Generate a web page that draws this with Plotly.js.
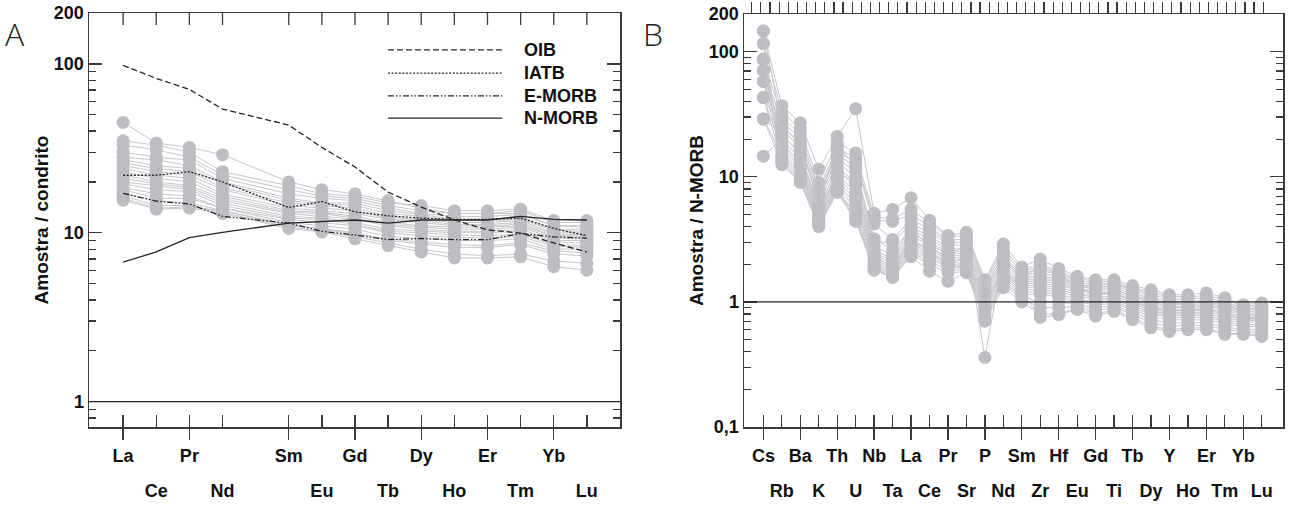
<!DOCTYPE html>
<html><head><meta charset="utf-8">
<script src="https://cdn.plot.ly/plotly-3.0.1.min.js"></script>
<style>html,body{margin:0;padding:0;background:#fff}#chart{width:1293px;height:505px}</style>
</head><body><div id="chart"></div>
<script>
// ---------- Panel A: chondrite-normalised REE ----------
const reeElements = ['La','Ce','Pr','Nd','Pm','Sm','Eu','Gd','Tb','Dy','Ho','Er','Tm','Yb','Lu'];
const reeRow1 = ['La','Pr','Sm','Gd','Dy','Er','Yb'];
const reeRow2 = ['Ce','Nd','Eu','Tb','Ho','Tm','Lu'];
const reeTicked = ['La','Ce','Pr','Nd','Sm','Eu','Gd','Tb','Dy','Ho','Er','Tm','Yb','Lu'];

// reference patterns (Pm = null)
const OIB_A   = [98, 82, 70.6, 54, null, 43.4, 32, 24.5, 17.4, 14.2, 11.9, 10.4, 9.96, 8.7, 7.7];
const IATB_A  = [21.9, 21.9, 23, 20, null, 14.1, 15.3, 13.3, 12.6, 12.2, 12, 12, 12.2, 10.6, 9.6];
const EMORB_A = [17.1, 15.4, 14.8, 12.5, null, 11.4, 10.2, 9.7, 9.1, 9.25, 9.1, 9.1, 9.9, 9.45, 9.3];
const NMORB_A = [6.7, 7.7, 9.35, 10.05, null, 11.4, 11.6, 11.9, 11.4, 11.9, 11.9, 11.9, 12.5, 12.0, 11.9];

// samples (La..Lu, Pm = null)
const samplesA = [
 [45, 34, 32, 29, null, 20, 18, 17, 15.5, 14, 13, 13, 13.5, 11.5, 11.5],
 [35, 33, 30, 23, null, 19, 17, 16.5, 15, 14.5, 13.5, 13.5, 13.8, 11.8, 11.8],
 [33, 31, 28, 22, null, 18, 16.5, 16, 14.5, 13.5, 13, 13, 13, 11, 11],
 [30, 28, 27, 21, null, 17, 16, 15.5, 14, 13, 12.5, 12.5, 12.8, 11, 10.8],
 [28, 27, 25, 20, null, 16, 15, 15, 13.5, 12.8, 12, 12, 12.5, 10.5, 10.5],
 [27, 25, 24, 19.5, null, 15.5, 14.8, 14.5, 13, 12.5, 11.8, 11.8, 12, 10.3, 10.2],
 [26, 24, 23, 18.5, null, 15, 14.5, 14, 12.5, 12, 11.5, 11.5, 11.8, 10, 10],
 [25, 23, 22, 18, null, 14.5, 14, 13.5, 12.2, 11.8, 11.2, 11.2, 11.5, 9.8, 9.8],
 [24, 22, 21, 17, null, 14, 13.5, 13, 12, 11.5, 11, 11, 11.2, 9.6, 9.6],
 [23, 21, 20, 16.5, null, 13.5, 13.2, 12.5, 11.5, 11, 10.8, 10.8, 11, 9.5, 9.4],
 [22, 20, 19, 16, null, 13.2, 13, 12.2, 11.2, 10.8, 10.5, 10.5, 10.8, 9.3, 9.2],
 [21, 19.5, 18.5, 15.5, null, 13, 12.5, 12, 11, 10.5, 10.2, 10.2, 10.5, 9, 9],
 [20, 19, 18, 15, null, 12.5, 12.2, 11.5, 10.5, 10.2, 10, 10, 10.2, 8.8, 8.7],
 [19.5, 18, 17.5, 14.5, null, 12.2, 12, 11.2, 10.2, 10, 9.7, 9.6, 9.8, 8.5, 8.4],
 [18.5, 17, 16.5, 14, null, 12, 11.5, 11, 10, 9.6, 9.4, 9.3, 9.5, 8.3, 8.2],
 [18, 16, 16, 14, null, 11.5, 11, 10.5, 9.5, 9.2, 9, 9, 9.2, 8, 8],
 [17, 15.5, 15, 13.5, null, 11, 10.6, 10, 9, 8.6, 8.2, 8.2, 8.5, 7.5, 7.3],
 [16.5, 14.5, 14.5, 13.2, null, 10.8, 10.2, 9.5, 8.7, 8.0, 7.5, 7.3, 7.5, 6.8, 6.6],
 [15.6, 13.8, 14, 13, null, 10.6, 10.1, 9.2, 8.4, 7.7, 7.1, 7.1, 7.2, 6.3, 6.0],
 [16, 14, 14.2, 13.5, null, 11.2, 10.5, 9.8, 9.2, 8.8, 8.5, 8.4, 8.7, 7.8, 7.6]
];

// ---------- Panel B: N-MORB-normalised multi-element ----------
const spiderElements = ['Cs','Rb','Ba','K','Th','U','Nb','Ta','La','Ce','Pr','Sr','P','Nd','Sm','Zr','Hf','Eu','Gd','Ti','Tb','Dy','Y','Ho','Er','Tm','Yb','Lu'];
const spiderRow1 = ['Cs','Ba','Th','Nb','La','Pr','P','Sm','Hf','Gd','Tb','Y','Er','Yb'];
const spiderRow2 = ['Rb','K','U','Ta','Ce','Sr','Nd','Zr','Eu','Ti','Dy','Ho','Tm','Lu'];

const samplesB = [
 [146, 37, 27, 11.5, 21, 35, 5.1, 5.5, 6.8, 4.5, 3.4, 3.6, 1.5, 2.9, 1.9, 2.2, 1.85, 1.6, 1.5, 1.5, 1.35, 1.25, 1.14, 1.14, 1.18, 1.08, 0.95, 0.98],
 [116, 33, 24, 9, 19, 15.5, 4.8, 4.6, 5.5, 4.3, 3.3, 3.4, 1.45, 2.7, 1.8, 2.0, 1.75, 1.55, 1.45, 1.45, 1.3, 1.2, 1.1, 1.1, 1.12, 1.05, 0.92, 0.95],
 [87, 30, 22, 8, 17, 14, 4.5, 4.4, 5.0, 4.0, 3.1, 3.2, 1.4, 2.5, 1.75, 1.9, 1.7, 1.5, 1.4, 1.4, 1.28, 1.15, 1.05, 1.05, 1.08, 1.0, 0.9, 0.92],
 [71, 28, 20, 7.5, 16, 13, 4.2, 3.15, 4.6, 3.8, 3.0, 3.0, 1.35, 2.3, 1.7, 1.8, 1.65, 1.45, 1.35, 1.38, 1.25, 1.1, 1.0, 1.0, 1.03, 0.97, 0.87, 0.9],
 [58, 26, 18, 7, 15, 12, 3.0, 3.0, 4.2, 3.6, 2.9, 2.8, 1.3, 2.2, 1.65, 1.7, 1.6, 1.4, 1.3, 1.35, 1.2, 1.05, 0.97, 0.97, 1.0, 0.94, 0.85, 0.88],
 [43, 24, 17, 6.5, 14, 11, 2.8, 2.35, 3.9, 3.4, 2.7, 2.6, 1.25, 2.1, 1.6, 1.6, 1.55, 1.38, 1.28, 1.3, 1.15, 1.02, 0.95, 0.95, 0.97, 0.92, 0.83, 0.85],
 [29, 22, 15, 6, 13, 10, 2.6, 2.2, 3.7, 3.2, 2.6, 2.5, 1.2, 2.0, 1.55, 1.55, 1.5, 1.35, 1.25, 1.25, 1.12, 1.0, 0.92, 0.92, 0.94, 0.9, 0.8, 0.83],
 [14.6, 20, 14, 5.5, 12, 9, 2.5, 2.1, 3.5, 3.0, 2.5, 2.4, 1.15, 1.9, 1.5, 1.5, 1.45, 1.3, 1.2, 1.2, 1.1, 0.97, 0.9, 0.9, 0.92, 0.87, 0.78, 0.8],
 [58, 19, 13, 5.3, 11, 8.5, 2.4, 2.0, 3.3, 2.9, 2.4, 2.3, 1.1, 1.8, 1.45, 1.45, 1.4, 1.27, 1.18, 1.17, 1.05, 0.93, 0.87, 0.87, 0.88, 0.83, 0.76, 0.78],
 [87, 18, 12.5, 5, 10.5, 7.5, 2.3, 1.9, 3.1, 2.7, 2.3, 2.2, 1.05, 1.75, 1.4, 1.4, 1.35, 1.25, 1.15, 1.15, 1.03, 0.9, 0.85, 0.85, 0.86, 0.8, 0.74, 0.76],
 [43, 17, 12, 4.8, 10, 7, 2.2, 1.85, 3.0, 2.6, 2.2, 2.1, 1.0, 1.7, 1.35, 1.35, 1.3, 1.2, 1.1, 1.1, 1.0, 0.88, 0.82, 0.82, 0.83, 0.78, 0.72, 0.74],
 [71, 16, 11.5, 4.6, 9.5, 6.5, 2.1, 1.8, 2.9, 2.5, 2.1, 2.0, 0.95, 1.65, 1.3, 1.3, 1.25, 1.15, 1.08, 1.05, 0.97, 0.85, 0.8, 0.8, 0.8, 0.75, 0.7, 0.72],
 [29, 15, 11, 4.5, 9, 6, 2.0, 1.75, 2.8, 2.4, 2.0, 1.95, 0.9, 1.6, 1.25, 1.25, 1.2, 1.1, 1.05, 1.02, 0.94, 0.82, 0.78, 0.78, 0.78, 0.72, 0.68, 0.7],
 [116, 14.5, 10.5, 4.4, 8.5, 5.5, 1.95, 1.7, 2.7, 2.3, 1.95, 1.9, 0.85, 1.55, 1.2, 1.2, 1.15, 1.05, 1.0, 1.0, 0.9, 0.8, 0.75, 0.75, 0.75, 0.7, 0.65, 0.67],
 [58, 14, 10, 4.3, 8, 5, 1.9, 1.65, 2.6, 2.2, 1.9, 1.85, 0.8, 1.5, 1.15, 1.15, 1.1, 1.0, 0.95, 0.97, 0.87, 0.76, 0.72, 0.72, 0.72, 0.67, 0.63, 0.64],
 [43, 13.5, 9.5, 4.2, 7.8, 4.8, 1.85, 1.6, 2.5, 2.1, 1.8, 1.8, 0.75, 1.45, 1.1, 1.0, 1.0, 0.95, 0.9, 0.93, 0.83, 0.72, 0.68, 0.68, 0.68, 0.63, 0.6, 0.6],
 [29, 13, 9.2, 4.1, 7.6, 4.6, 1.82, 1.58, 2.4, 2.0, 1.7, 1.75, 0.72, 1.4, 1.05, 0.9, 0.9, 0.92, 0.85, 0.9, 0.8, 0.68, 0.64, 0.65, 0.65, 0.6, 0.58, 0.57],
 [87, 12.5, 9.0, 4.0, 7.5, 4.4, 1.79, 1.57, 2.3, 1.76, 1.46, 1.71, 0.7, 1.3, 1.0, 0.8, 0.8, 0.9, 0.8, 0.86, 0.75, 0.64, 0.6, 0.62, 0.62, 0.56, 0.56, 0.54],
 [146, 25, 19, 6, 18, 12, 3.2, 2.6, 3.8, 2.8, 2.2, 3.0, 0.36, 2.3, 1.5, 2.0, 1.6, 1.3, 1.15, 1.2, 1.0, 0.9, 0.85, 0.85, 0.9, 0.82, 0.72, 0.75],
 [71, 21, 16, 5.2, 11, 9, 2.3, 1.9, 3.2, 2.5, 2.0, 2.3, 0.9, 1.9, 1.2, 0.75, 0.79, 0.87, 0.77, 0.84, 0.72, 0.62, 0.58, 0.6, 0.6, 0.55, 0.55, 0.53]
];

const yTicksA = [1, 10, 100, 200];
const yTextA = ['1', '10', '100', '200'];
const yTicksB = [0.1, 1, 10, 100, 200];
const yTextB = ['0,1', '1', '10', '100', '200'];
const refNames = ['OIB', 'IATB', 'E-MORB', 'N-MORB'];

// ---------- styles ----------
const GREY_M = '#bdbec1', GREY_L = '#c6c7ca', INK = '#262626', FRAME = '#3a3a3a';
const FONT = 'Liberation Sans, Arial, sans-serif';
const refDash = ['6px,3px', '2px,1.6px', '6px,2px,1.5px,2px,1.5px,2px', 'solid'];

const idxA = names => names.map(n => reeElements.indexOf(n));
const idxB = names => names.map(n => spiderElements.indexOf(n));

const traces = [];
samplesA.forEach(s => traces.push({
  x: idxA(reeElements), y: s, xaxis: 'x', yaxis: 'y', type: 'scatter', mode: 'lines+markers',
  connectgaps: true, line: {color: GREY_L, width: 1}, marker: {size: 13, color: GREY_M},
  showlegend: false, hoverinfo: 'skip'
}));
[OIB_A, IATB_A, EMORB_A, NMORB_A].forEach((s, i) => traces.push({
  x: idxA(reeElements), y: s, xaxis: 'x', yaxis: 'y', type: 'scatter', mode: 'lines',
  connectgaps: true, name: refNames[i], line: {color: INK, width: 1.3, dash: refDash[i]},
  showlegend: false
}));
samplesB.forEach(s => traces.push({
  x: idxB(spiderElements), y: s, xaxis: 'x2', yaxis: 'y2', type: 'scatter', mode: 'lines+markers',
  line: {color: GREY_L, width: 1}, marker: {size: 13, color: GREY_M},
  showlegend: false, hoverinfo: 'skip'
}));
// invisible anchors so that the auxiliary tick/label axes are laid out
function anchorTrace(xa, ya, xs) {
  return {x: xs, y: xs.map(() => 1), xaxis: xa, yaxis: ya, type: 'scatter', mode: 'markers',
    marker: {opacity: 0, size: 1}, showlegend: false, hoverinfo: 'skip'};
}
traces.push(anchorTrace('x3', 'y', idxA(reeTicked)));
traces.push(anchorTrace('x4', 'y2', idxB(spiderElements)));
traces.push(anchorTrace('x7', 'y2', idxB(spiderElements)));

const W = 1293, H = 505;
const domA = [89 / W, 620 / W], domB = [744 / W, 1283 / W];
const domYA = [(H - 427) / H, (H - 13) / H], domYB = [(H - 427) / H, (H - 14) / H];
const rangeA = [-1.03, 15.0], rangeB = [-1.05, 28.15];
const tickFont = {family: FONT, size: 18, color: '#111', weight: 'bold'};

// base axis: inside ticks at every element, lower label row
function baseX(dom, anchor, rng, tv, row2Names, allNames) {
  return {domain: dom, anchor: anchor, type: 'linear', range: rng, autorange: false, tickmode: 'array',
    tickvals: tv, ticktext: tv.map(i => row2Names.includes(allNames[i]) ? allNames[i] : ''),
    ticks: 'inside', ticklen: 12, tickwidth: 1.3, tickcolor: FRAME, ticklabelstandoff: 47,
    showline: true, linecolor: FRAME, linewidth: 1.5, mirror: true,
    showgrid: false, zeroline: false, tickfont: tickFont, fixedrange: true};
}
// overlay axis: upper label row with long ticks crossing below the frame
function upperX(base, anchor, rng, tv, tt) {
  return {overlaying: base, anchor: anchor, type: 'linear', range: rng, autorange: false, tickmode: 'array',
    tickvals: tv, ticktext: tt, ticks: 'outside', ticklen: 12, tickwidth: 1.3, tickcolor: FRAME,
    showgrid: false, zeroline: false, showline: false, tickfont: tickFont, fixedrange: true};
}
// overlay axis: tick rail hanging from the top frame
function topRail(base, anchor, rng, tv, len) {
  return {overlaying: base, anchor: anchor, side: 'top', type: 'linear', range: rng, autorange: false,
    tickmode: 'array', tickvals: tv, ticks: 'outside', ticklen: len, tickwidth: 1.2, tickcolor: FRAME,
    showticklabels: false, showgrid: false, zeroline: false, showline: false, fixedrange: true};
}
function logY(dom, anchor, rng, tv, tt, minorVals) {
  return {domain: dom, anchor: anchor, type: 'log', range: rng, tickmode: 'array', tickvals: tv, ticktext: tt,
    ticks: 'inside', ticklen: 13, tickwidth: 1.3, tickcolor: FRAME, showline: true, linecolor: FRAME,
    linewidth: 1.5, mirror: 'ticks', showgrid: false, zeroline: false, tickfont: tickFont,
    minor: {tickmode: 'array', tickvals: minorVals, ticks: 'inside', ticklen: 7, tickwidth: 1.2, tickcolor: FRAME},
    fixedrange: true};
}
const minorA = [0.8, 0.9, 2, 3, 4, 5, 6, 7, 8, 9, 20, 30, 40, 50, 60, 70, 80, 90];
const minorB = [0.2, 0.3, 0.4, 0.5, 0.6, 0.7, 0.8, 0.9, 2, 3, 4, 5, 6, 7, 8, 9, 20, 30, 40, 50, 60, 70, 80, 90];
// fine top tick rail of panel B (half-element spacing)
const topTicksB = [];
for (let v = -0.63; v <= 27.1; v += 0.4948) topTicksB.push(v);

const layout = {
  width: W, height: H, margin: {l: 0, r: 0, t: 0, b: 0}, paper_bgcolor: '#fff', plot_bgcolor: 'rgba(0,0,0,0)',
  showlegend: false, font: {family: FONT, color: '#111'},
  xaxis: baseX(domA, 'y', rangeA, idxA(reeTicked), reeRow2, reeElements),
  xaxis3: upperX('x', 'y', rangeA, idxA(reeRow1), reeRow1),
  yaxis: Object.assign(logY(domYA, 'x', [Math.log10(0.708), Math.log10(200)], yTicksA, yTextA, minorA),
    {title: {text: 'Amostra / condrito', font: {family: FONT, size: 19, color: '#111', weight: 'bold'}, standoff: 0}}),
  xaxis2: baseX(domB, 'y2', rangeB, idxB(spiderElements), spiderRow2, spiderElements),
  xaxis4: upperX('x2', 'y2', rangeB, idxB(spiderRow1), spiderRow1),
  xaxis7: topRail('x2', 'y2', rangeB, topTicksB, 11),
  yaxis2: Object.assign(logY(domYB, 'x2', [-1, Math.log10(200)], yTicksB, yTextB, minorB),
    {title: {text: 'Amostra / N-MORB', font: {family: FONT, size: 19, color: '#111', weight: 'bold'}, standoff: 0}}),
  shapes: [
    {type: 'line', xref: 'x domain', yref: 'y', x0: 0, x1: 1, y0: 1, y1: 1, line: {color: INK, width: 1.3}},
    {type: 'line', xref: 'x2 domain', yref: 'y2', x0: 0, x1: 1, y0: 1, y1: 1, line: {color: INK, width: 1.3}}
  ],
  annotations: [
    {text: 'A', xref: 'paper', yref: 'paper', x: 3 / W, y: 1 - 10 / H, xanchor: 'left', yanchor: 'top', showarrow: false,
      font: {family: 'Open Sans, DejaVu Sans, sans-serif', size: 32, color: '#222', weight: 300}},
    {text: 'B', xref: 'paper', yref: 'paper', x: 641 / W, y: 1 - 10 / H, xanchor: 'left', yanchor: 'top', showarrow: false,
      font: {family: 'Open Sans, DejaVu Sans, sans-serif', size: 32, color: '#222', weight: 300}}
  ]
};

// top-edge ticks of panel A, hanging from the frame at every plotted element
const plotHeightA = 427 - 13;
idxA(reeTicked).forEach(i => layout.shapes.push({type: 'line', xref: 'x', yref: 'y domain',
  x0: i, x1: i, y0: 1, y1: 1 - 12 / plotHeightA, line: {color: FRAME, width: 1.3}}));

// custom legend (long line samples as in the original figure)
const legRows = [0.911, 0.855, 0.800, 0.746];
refNames.forEach((n, i) => {
  layout.shapes.push({type: 'line', xref: 'x domain', yref: 'y domain', x0: 0.563, x1: 0.778, y0: legRows[i], y1: legRows[i],
    line: {color: INK, width: 1.3, dash: refDash[i]}});
  layout.annotations.push({text: n, xref: 'x domain', yref: 'y domain', x: 0.815, y: legRows[i], xanchor: 'left', yanchor: 'middle',
    showarrow: false, font: {family: FONT, size: 18, color: '#111', weight: 'bold'}});
});

Plotly.newPlot('chart', traces, layout, {staticPlot: true, displayModeBar: false});
</script></body></html>
